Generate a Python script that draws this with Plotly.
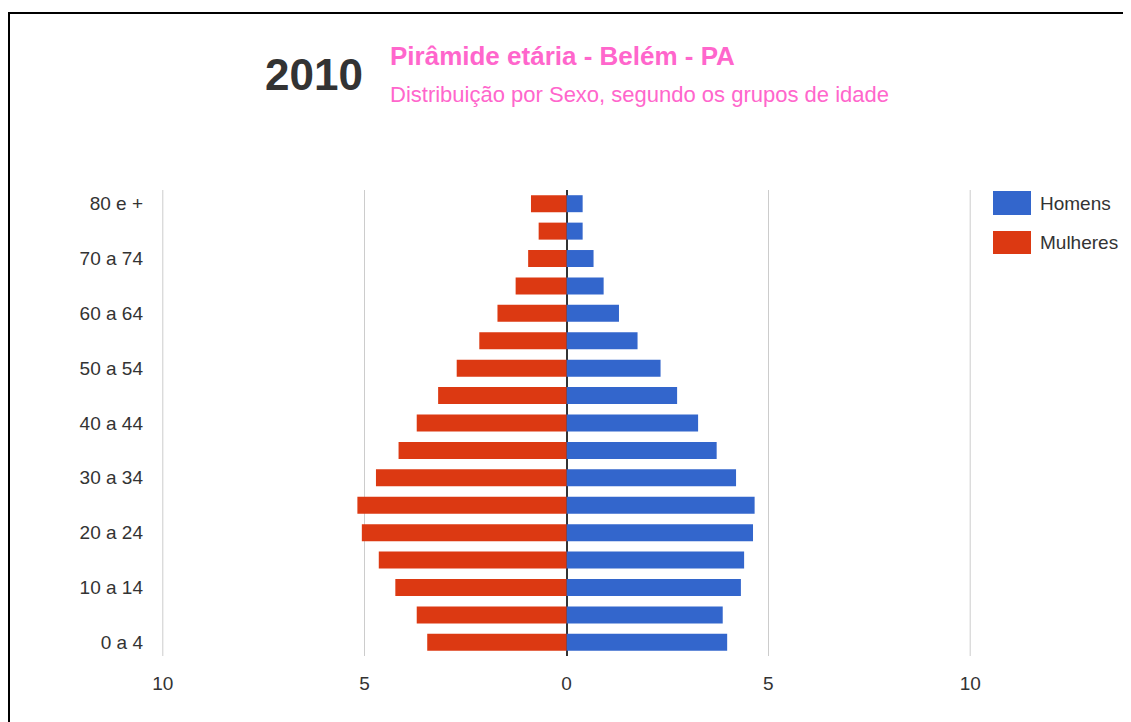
import plotly.graph_objects as go

# Age groups, bottom to top
age_groups = ["0 a 4", "5 a 9", "10 a 14", "15 a 19", "20 a 24", "25 a 29",
              "30 a 34", "35 a 39", "40 a 44", "45 a 49", "50 a 54", "55 a 59",
              "60 a 64", "65 a 69", "70 a 74", "75 a 79", "80 e +"]
# Percentages
homens = [3.98, 3.87, 4.32, 4.40, 4.62, 4.66, 4.20, 3.72, 3.26, 2.74,
          2.33, 1.76, 1.30, 0.92, 0.67, 0.40, 0.40]
mulheres = [3.45, 3.71, 4.24, 4.65, 5.07, 5.18, 4.72, 4.16, 3.71, 3.18,
            2.72, 2.16, 1.71, 1.26, 0.95, 0.69, 0.88]
x_ticks = [-10, -5, 0, 5, 10]
x_tick_text = ["10", "5", "0", "5", "10"]
y_tick_labels = age_groups[::2]

BLUE = "#3366CC"
RED = "#DC3912"
PINK = "#FF66CC"
FONT = "Arial, Liberation Sans, sans-serif"

fig = go.Figure()
fig.add_trace(go.Bar(
    y=age_groups, x=homens, orientation="h", name="Homens",
    marker=dict(color=BLUE, line=dict(width=0)),
    hovertemplate="%{y}: %{x}<extra>Homens</extra>",
))
fig.add_trace(go.Bar(
    y=age_groups, x=[-v for v in mulheres], orientation="h", name="Mulheres",
    marker=dict(color=RED, line=dict(width=0)),
    customdata=mulheres,
    hovertemplate="%{y}: %{customdata}<extra>Mulheres</extra>",
))

OFF = 8  # default page body margin
W, H = 1131 - OFF, 722 - OFF
PL, PR, PT, PB = 162, 971, 190, 656  # plot area in page pixels
L, R, T, B = PL - OFF, W - (PR - OFF), PT - OFF, H - (PB - OFF)
pw, ph = W - L - R, H - T - B


def px(x):
    return (x - OFF - L) / pw


def py(y):
    return (H - B - (y - OFF)) / ph


fig.update_layout(
    template="none",
    width=W, height=H,
    margin=dict(l=L, r=R, t=T, b=B, autoexpand=False),
    paper_bgcolor="white", plot_bgcolor="white",
    barmode="overlay", bargap=0.38,
    showlegend=False,
    font=dict(family=FONT, size=19, color="#333333"),
    xaxis=dict(
        range=[-10.02, 10.02], tickvals=x_ticks, ticktext=x_tick_text,
        showgrid=True, gridcolor="#CCCCCC", gridwidth=1,
        zeroline=True, zerolinecolor="#333333", zerolinewidth=1.5,
        showline=False, ticks="", ticklabelstandoff=14, automargin=False,
        tickfont=dict(size=19, color="#333333"),
    ),
    yaxis=dict(
        type="category", categoryorder="array", categoryarray=age_groups,
        tickvals=y_tick_labels, showgrid=False, zeroline=False,
        showline=False, ticks="", ticklabelstandoff=18, automargin=False,
        tickfont=dict(size=19, color="#333333"),
    ),
)

shapes = [
    # outer frame
    dict(type="rect", xref="paper", yref="paper",
         x0=px(9), x1=px(1131 + 30), y0=py(722 + 30), y1=py(13),
         line=dict(color="black", width=2), fillcolor="rgba(0,0,0,0)", layer="above"),
    # legend swatches
    dict(type="rect", xref="paper", yref="paper",
         x0=px(993), x1=px(1031), y0=py(215), y1=py(191),
         line=dict(width=0), fillcolor=BLUE),
    dict(type="rect", xref="paper", yref="paper",
         x0=px(993), x1=px(1031), y0=py(254), y1=py(231),
         line=dict(width=0), fillcolor=RED),
]
# grid lines at the range ends (plotly clips grid lines at the edges)
for xv in (x_ticks[0], x_ticks[-1]):
    shapes.append(dict(type="line", xref="x", yref="paper", x0=xv, x1=xv,
                       y0=0, y1=1, line=dict(color="#CCCCCC", width=1), layer="below"))

annotations = [
    dict(text="<b>2010</b>", xref="paper", yref="paper", x=px(365), y=py(74),
         xanchor="right", yanchor="middle", showarrow=False,
         font=dict(size=44, color="#333333", family=FONT)),
    dict(text="<b>Pirâmide etária - Belém - PA</b>", xref="paper", yref="paper",
         x=px(388), y=py(56), xanchor="left", yanchor="middle", showarrow=False,
         font=dict(size=26, color=PINK, family=FONT)),
    dict(text="Distribuição por Sexo, segundo os grupos de idade", xref="paper",
         yref="paper", x=px(388), y=py(94), xanchor="left", yanchor="middle",
         showarrow=False, font=dict(size=22, color=PINK, family=FONT)),
    dict(text="Homens", xref="paper", yref="paper", x=px(1038), y=py(203),
         xanchor="left", yanchor="middle", showarrow=False,
         font=dict(size=19, color="#333333", family=FONT)),
    dict(text="Mulheres", xref="paper", yref="paper", x=px(1038), y=py(242),
         xanchor="left", yanchor="middle", showarrow=False,
         font=dict(size=19, color="#333333", family=FONT)),
]
fig.update_layout(shapes=shapes, annotations=annotations)

fig.write_html("out.html")
